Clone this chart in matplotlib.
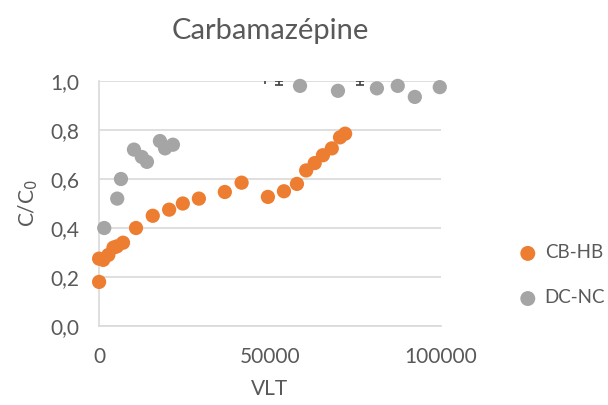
import matplotlib.pyplot as plt
from matplotlib.ticker import FuncFormatter

plt.rcParams['font.family'] = ['Lato', 'DejaVu Sans']

# CB-HB series
cb_vlt = [0, 0, 1200, 2700, 4200, 5200, 7000, 10800, 15700, 20500, 24500, 29200,
          36800, 41700, 49400, 54100, 57900, 60600, 63100, 65500, 68100, 70500, 72000]
cb_c = [0.18, 0.275, 0.27, 0.29, 0.32, 0.325, 0.34, 0.40, 0.45, 0.475, 0.50, 0.52,
        0.547, 0.585, 0.527, 0.55, 0.58, 0.635, 0.665, 0.697, 0.725, 0.77, 0.785]

# DC-NC series
dc_vlt = [1500, 5300, 6400, 10200, 12500, 14000, 17800, 19300, 21600,
          58800, 69900, 81300, 87400, 92400, 99700]
dc_c = [0.40, 0.52, 0.60, 0.72, 0.69, 0.67, 0.755, 0.725, 0.74,
        0.98, 0.96, 0.97, 0.98, 0.935, 0.975]

# stray error-bar ends just under 1,0
eb_vlt = [52600, 76300]
eb_c = [0.984, 0.984]
eb_up = [0.015, 0.015]

orange = '#ED7D31'
gray = '#A5A5A5'
txt = '#595959'

fig = plt.figure(figsize=(6.08, 4.05), dpi=100)
ax = fig.add_axes([0.163, 0.195, 0.562, 0.605])

ax.errorbar(eb_vlt, eb_c, yerr=[[0, 0], eb_up], fmt='none',
            ecolor='#404040', elinewidth=1.2, capsize=3, capthick=1.2, zorder=3)
ax.errorbar([48500], [0.995], yerr=[[0.006], [0.004]], fmt='none',
            ecolor='#404040', elinewidth=1.2, capsize=0, zorder=3)
ax.scatter(cb_vlt, cb_c, s=105, color=orange, edgecolors='none', zorder=4,
           label='CB-HB', clip_on=False)
ax.scatter(dc_vlt, dc_c, s=105, color=gray, edgecolors='none', zorder=4,
           label='DC-NC', clip_on=False)

ax.set_xlim(0, 100000)
ax.set_ylim(0, 1.0)
ax.set_xticks([0, 50000, 100000])
ax.set_yticks([0, 0.2, 0.4, 0.6, 0.8, 1.0])
ax.yaxis.set_major_formatter(FuncFormatter(lambda v, p: f'{v:.1f}'.replace('.', ',')))
ax.grid(axis='y', color='#D9D9D9', linewidth=1.2)
ax.set_axisbelow(True)
for s in ['top', 'right']:
    ax.spines[s].set_visible(False)
for s in ['left', 'bottom']:
    ax.spines[s].set_color('#D9D9D9')
    ax.spines[s].set_linewidth(1.2)
ax.tick_params(length=0, labelsize=15, labelcolor=txt)
ax.tick_params(axis='y', pad=14)
ax.tick_params(axis='x', pad=15)

ax.set_title('Carbamazépine', fontsize=21, color=txt, pad=30)
ax.set_xlabel('VLT', fontsize=15, color=txt, labelpad=9)
ax.set_ylabel('C/C$_0$', fontsize=15, color=txt, labelpad=8)

fig.legend(loc='center left', bbox_to_anchor=(0.828, 0.32), frameon=False,
           fontsize=13.5, labelcolor=txt, handlelength=0.8, handletextpad=0.5,
           labelspacing=1.5, markerscale=1.05)

fig.savefig('out.png', dpi=100)
